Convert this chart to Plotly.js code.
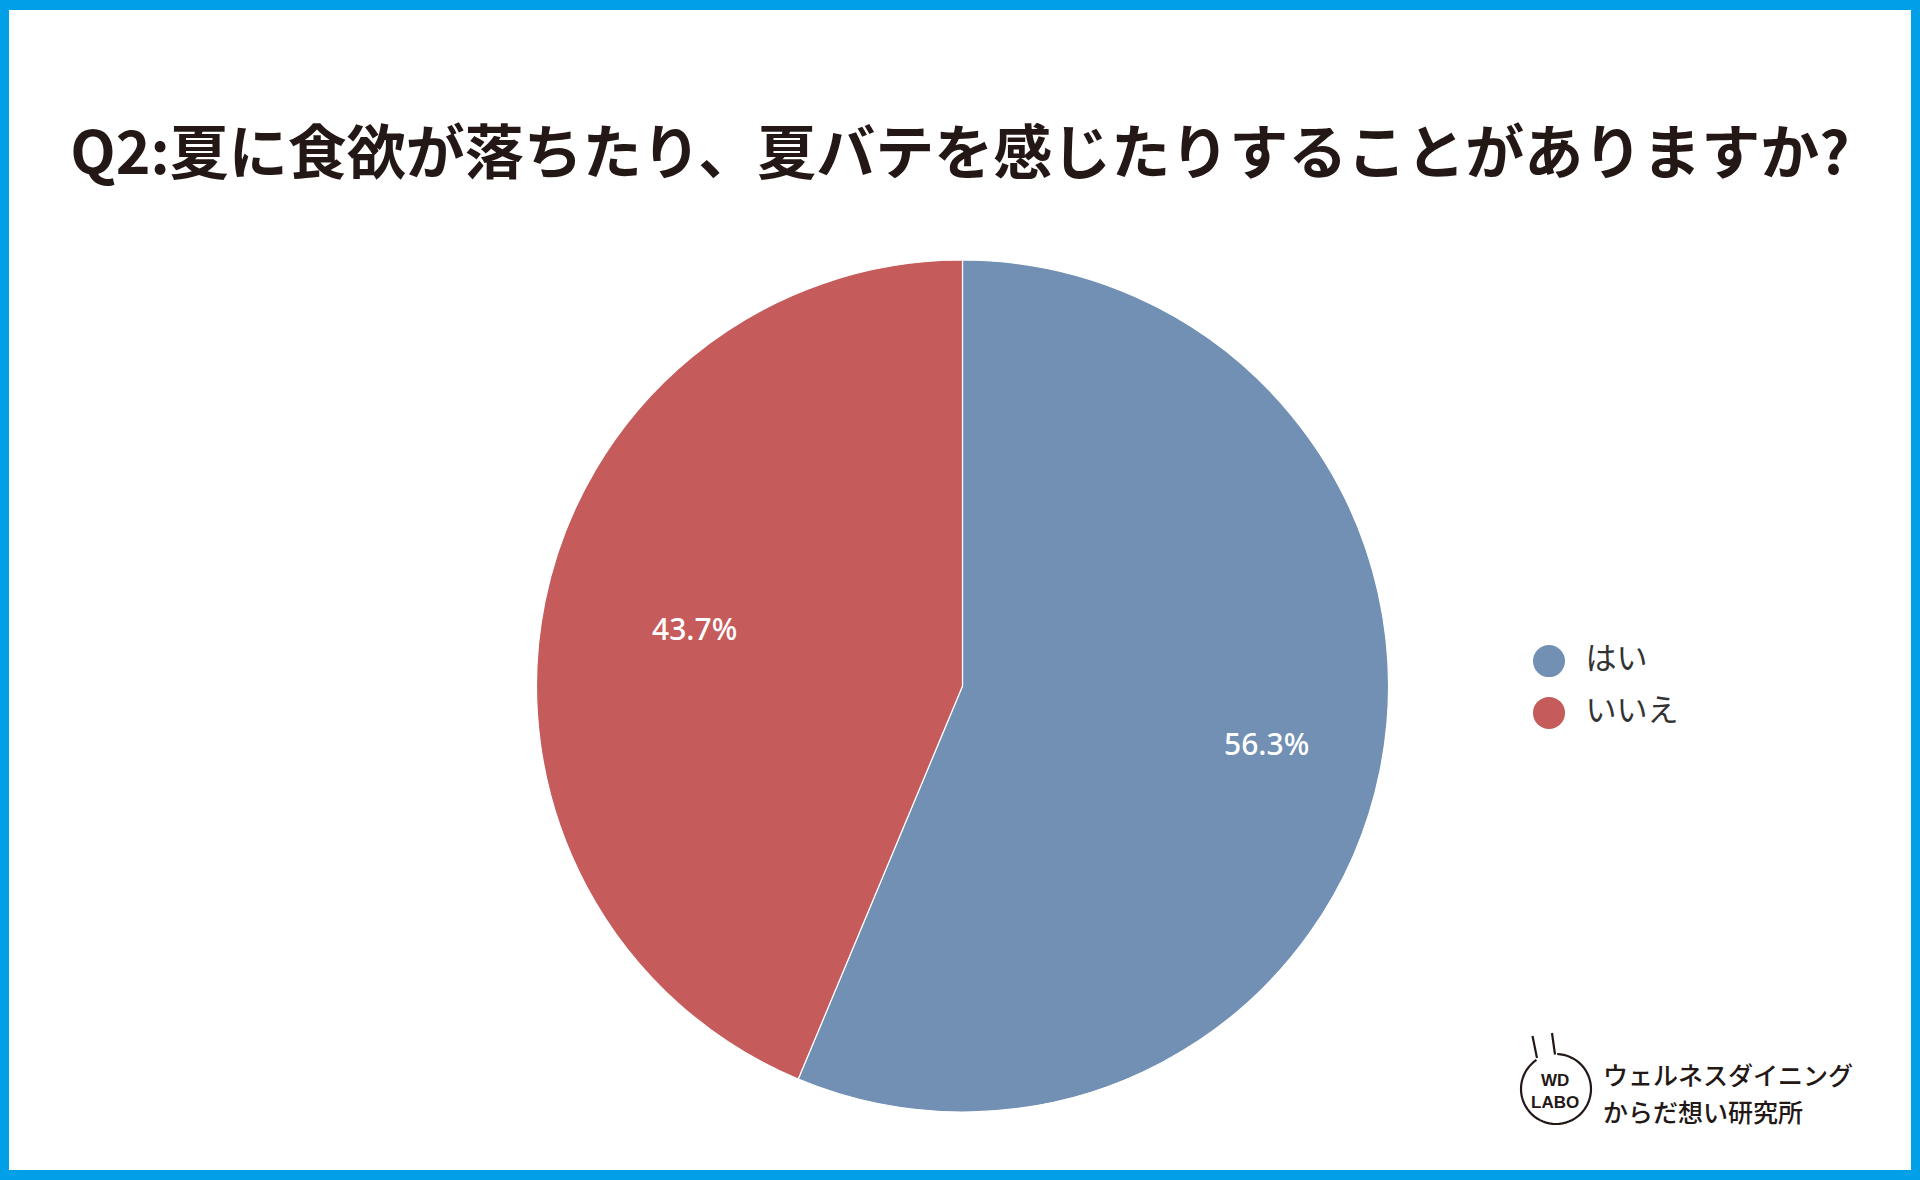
<!DOCTYPE html>
<html>
<head>
<meta charset="utf-8">
<script src="https://cdn.plot.ly/plotly-3.0.1.min.js"></script>
<style>
  html, body { margin: 0; padding: 0; background: #ffffff; }
  #chart { width: 1920px; height: 1180px; }
</style>
</head>
<body>
<div id="chart"></div>
<script>
// ---- data ----
const titleText = 'Q2:夏に食欲が落ちたり、夏バテを感じたりすることがありますか?';
const categories = ['はい', 'いいえ'];
const values = [56.3, 43.7];
const sliceColors = ['#7190B3', '#C65B5B'];
const logoMark = ['WD', 'LABO'];
const logoLines = ['ウェルネスダイニング', 'からだ想い研究所'];

// ---- helpers (pixel -> paper) ----
const W = 1920, H = 1180;
const px = x => x / W;
const py = y => 1 - y / H;

const pieCx = 962.5, pieCy = 686, pieR = 426;
const labelRadiusFrac = 0.685;

const pieTrace = {
  type: 'pie',
  labels: categories,
  values: values,
  sort: false,
  direction: 'clockwise',
  rotation: 0,
  marker: { colors: sliceColors, line: { color: '#ffffff', width: 1.2 } },
  textinfo: 'none',
  hoverinfo: 'none',
  showlegend: false,
  domain: { x: [px(pieCx - pieR), px(pieCx + pieR)], y: [py(pieCy + pieR), py(pieCy - pieR)] }
};

// percentage labels placed on each slice's bisector, computed from the values
const total = values.reduce((a, b) => a + b, 0);
const labelAnnotations = [];
let cum = 0;
values.forEach((v, i) => {
  const midFrac = (cum + v / 2) / total;  // clockwise from 12 o'clock
  cum += v;
  const ang = midFrac * 2 * Math.PI;
  const X = pieCx + labelRadiusFrac * pieR * Math.sin(ang);
  const Y = pieCy - labelRadiusFrac * pieR * Math.cos(ang);
  labelAnnotations.push({
    xref: 'paper', yref: 'paper', x: px(X), y: py(Y), xanchor: 'center', yanchor: 'middle',
    xshift: 18,
    text: (v / total * 100).toFixed(1) + '%', showarrow: false,
    font: { family: 'Noto Sans, sans-serif', size: 30, color: '#ffffff', weight: 500 }
  });
});

// legend drawn as a scatter on hidden axes (circle markers)
const legendTrace = {
  type: 'scatter',
  mode: 'markers+text',
  x: categories.map(() => 0),
  y: categories,
  text: categories,
  texttemplate: '\u2002%{text}',
  textposition: 'middle right',
  textfont: { family: 'Noto Sans CJK JP, sans-serif', size: 31, color: '#333333' },
  marker: { symbol: 'circle', size: 32, color: sliceColors, line: { width: 0 } },
  xaxis: 'x2', yaxis: 'y2',
  hoverinfo: 'none',
  showlegend: false,
  cliponaxis: false
};

// logo arc path
const lc = { x: 1556, y: 1089, r: 35 };
let arc = '';
const a0 = -88, a1 = 236;
for (let i = 0; i <= 60; i++) {
  const a = (a0 + (a1 - a0) * i / 60) * Math.PI / 180;
  const X = px(lc.x + lc.r * Math.cos(a));
  const Y = py(lc.y + lc.r * Math.sin(a));
  arc += (i === 0 ? 'M' : 'L') + X.toFixed(5) + ',' + Y.toFixed(5) + ' ';
}

const ink = '#231815';
const shapes = [
  { type: 'rect', xref: 'paper', yref: 'paper', x0: px(9), x1: px(1911), y0: py(1170), y1: py(10),
    fillcolor: '#ffffff', line: { width: 0 }, layer: 'below' },
  { type: 'path', xref: 'paper', yref: 'paper', path: arc, line: { color: ink, width: 2.2 } },
  { type: 'line', xref: 'paper', yref: 'paper', x0: px(1532.5), y0: py(1036), x1: px(1537), y1: py(1058), line: { color: ink, width: 2.2 } },
  { type: 'line', xref: 'paper', yref: 'paper', x0: px(1552), y0: py(1033), x1: px(1555), y1: py(1054.5), line: { color: ink, width: 2.2 } }
];

const annotations = labelAnnotations.concat([
  { xref: 'paper', yref: 'paper', x: px(1555), y: py(1091), xanchor: 'center', yanchor: 'middle',
    text: '<b>' + logoMark[0] + '</b><br><b>' + logoMark[1] + '</b>', showarrow: false,
    font: { family: 'Liberation Sans, Arial, sans-serif', size: 17, color: ink }, align: 'center' },
  { xref: 'paper', yref: 'paper', x: px(1601), y: py(1074), xanchor: 'left', yanchor: 'middle',
    text: logoLines[0], showarrow: false,
    font: { family: 'Noto Sans CJK JP, sans-serif', size: 25, color: ink, weight: 500 } },
  { xref: 'paper', yref: 'paper', x: px(1601), y: py(1111), xanchor: 'left', yanchor: 'middle',
    text: logoLines[1], showarrow: false,
    font: { family: 'Noto Sans CJK JP, sans-serif', size: 25, color: ink, weight: 500 } }
]);

const layout = {
  width: W, height: H,
  margin: { l: 0, r: 0, t: 0, b: 0, pad: 0 },
  paper_bgcolor: '#00A0E9',
  plot_bgcolor: 'rgba(0,0,0,0)',
  title: {
    text: titleText,
    x: 0.5, xanchor: 'center', xref: 'paper',
    y: py(153), yanchor: 'middle', yref: 'paper',
    font: { family: 'Noto Sans CJK JP, sans-serif', size: 59, color: ink, weight: 700 }
  },
  xaxis2: { domain: [px(1530), px(1730)], range: [-0.105, 1], visible: false, fixedrange: true, anchor: 'y2' },
  yaxis2: { domain: [py(738), py(636)], type: 'category', autorange: 'reversed',
            visible: false, fixedrange: true, anchor: 'x2' },
  xaxis: { visible: false }, yaxis: { visible: false },
  shapes: shapes,
  annotations: annotations,
  showlegend: false
};

Plotly.newPlot('chart', [pieTrace, legendTrace], layout, { displayModeBar: false, staticPlot: true });
</script>
</body>
</html>
